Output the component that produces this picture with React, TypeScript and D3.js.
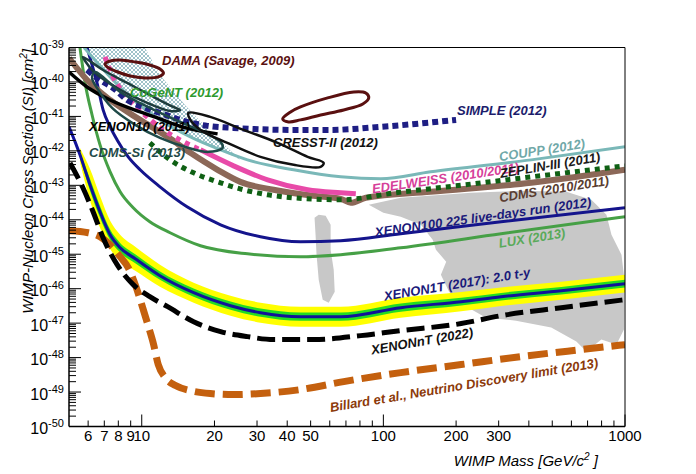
import React from 'react';
import * as d3 from 'd3';

type P = [number, number];

// ---- axis ticks ----
const yDecades = [-50, -49, -48, -47, -46, -45, -44, -43, -42, -41, -40, -39];
const xLabeledTicks = [6, 7, 8, 9, 10, 20, 30, 40, 50, 100, 200, 300, 1000];
const xMinorTicks = [60, 70, 80, 90, 400, 500, 600, 700, 800, 900];
const xDecadeTicks = [10, 100, 1000];

// ---- regions ----
const grayMain: P[] = [[87.0,2.72e-44],[118,4.34e-44],[231,6.07e-44],[372,6.93e-44],[572,6.49e-44],[726,3.8e-44],[838,1.4e-44],[879,3.67e-45],[967,9.68e-46],[995,1.82e-46],[990,6.49e-48],[922,2.38e-48],[798,3.33e-48],[692,1.49e-48],[629,2.91e-48],[495,7.41e-48],[354,1.18e-47],[266,1.44e-47],[214,3.44e-47],[187,8.18e-47],[173,2.55e-46],[182,6.07e-46],[165,1.35e-45],[160,2.63e-45],[143,7.16e-45],[118,1.22e-44],[100,1.6e-44]];
const graySliver: P[] = [[51.9,1.14e-44],[54.0,1.4e-44],[57.7,1.31e-44],[60.5,7.16e-45],[60.5,1.35e-45],[62.3,3.56e-46],[62.9,8.18e-47],[59.4,3.93e-47],[56.1,4.8e-47],[54.0,1.82e-46],[52.9,9.68e-46],[52.4,3.67e-45]];
const hatchRegion: P[] = [[5.77,1e-39],[10.3,1e-39],[11.9,1.6e-40],[15.1,2.15e-41],[19.8,2.91e-42],[25.6,5.48e-43],[21.2,1.07e-42],[15.9,2.55e-42],[11.9,7.92e-42],[9.22,3.0e-41],[7.4,1.4e-40]];

// ---- closed contours ----
const dama1: P[] = [[7.05,3.33e-40],[7.4,4.06e-40],[8.14,4.34e-40],[9.4,3.8e-40],[10.8,3.11e-40],[11.9,2.38e-40],[12.3,1.82e-40],[11.7,1.4e-40],[10.3,1.31e-40],[8.96,1.49e-40],[7.76,2.08e-40],[7.19,2.72e-40]];
const dama2: P[] = [[38.3,8.47e-42],[41.3,1.35e-41],[45.4,1.88e-41],[58.8,3.44e-41],[75.4,5.13e-41],[84.6,4.8e-41],[87.0,3.44e-41],[82.2,2.3e-41],[68.5,1.54e-41],[55.0,1.1e-41],[45.4,7.92e-42],[40.5,6.93e-42]];
const cresst: P[] = [[15.6,1.26e-41],[19.2,9.68e-42],[26.4,4.06e-42],[36.5,1.71e-42],[48.6,6.7e-43],[56.6,4.49e-43],[55.0,3.44e-43],[42.5,3.93e-43],[31.0,6.7e-43],[22.6,1.71e-42],[17.5,4.06e-42],[15.9,7.92e-42]];
const cogent: P[] = [[5.71,5.31e-40],[6.92,2.23e-40],[8.71,9.35e-41],[11.2,3.67e-41],[13.5,1.88e-41],[14.4,1.54e-41],[13.1,1.44e-41],[10.1,2.81e-41],[7.91,6.7e-41],[6.29,2.08e-40],[5.83,4.06e-40]];
const cdmsSi: P[] = [[6.41,1.95e-40],[8.14,5.13e-41],[10.8,1.76e-41],[14.4,6.93e-42],[18.3,3.33e-42],[21.2,1.82e-42],[21.6,1.22e-42],[18.9,9.35e-43],[15.1,1.31e-42],[11.9,2.38e-42],[9.4,5.68e-42],[7.54,1.76e-41],[6.53,6.7e-41],[6.23,1.31e-40]];

// ---- exclusion limits ----
const xenon10: P[] = [[5.0,1.95e-40],[5.94,7.16e-41],[7.4,3.0e-41],[9.85,1.35e-41],[11.9,8.47e-42],[14.7,4.97e-42],[20.6,3.11e-42]];
const simple: P[] = [[5.94,2.23e-40],[6.72,1.14e-40],[7.61,6.7e-41],[8.71,3.0e-41],[10.1,1.88e-41],[11.9,1.26e-41],[15.4,6.93e-42],[18.7,5.31e-42],[24,4.64e-42],[42.5,4.06e-42],[60.5,4.06e-42],[97.6,4.97e-42],[200,7.92e-42]];
const coupp: P[] = [[5.77,1e-39],[7.4,1.4e-40],[9.22,3.0e-41],[11.9,7.92e-42],[15.9,2.55e-42],[21.2,1.07e-42],[27.4,5.48e-43],[42.5,2.82e-43],[66.6,1.76e-43],[97.6,1.54e-43],[157,2.46e-43],[409,5.48e-43],[1000,1.31e-42]];
const edelweissA: P[] = [[7.05,5.31e-40],[7.61,1.4e-40],[8.71,3.67e-41],[10.1,1.26e-41],[12.3,4.06e-42],[14.4,2.08e-42],[17.5,1.07e-42]];
const edelweissB: P[] = [[17.5,1.07e-42],[24,3.67e-43],[33.2,1.44e-43],[48.6,7.41e-44],[66.6,6.07e-44],[76.9,5.68e-44]];
const cdms: P[] = [[5.0,4.97e-40],[5.94,1.14e-40],[7.4,3.0e-41],[9.85,7.92e-42],[12.8,2.55e-42],[15.9,8.75e-43],[20.6,2.82e-43],[25.6,1.26e-43],[35.1,7.41e-44],[51.4,4.97e-44],[66.6,4.06e-44],[73.3,3.11e-44],[84.6,4.34e-44],[157,6.49e-44],[409,1.18e-43],[1000,2.82e-43]];
const zeplin: P[] = [[10.8,1.71e-42],[13.1,5.48e-43],[16.4,2.3e-43],[21.2,1.18e-43],[26.4,7.41e-44],[33.2,5.31e-44],[42.5,4.34e-44],[66.6,3.8e-44],[112,6.07e-44],[216,1.03e-43],[409,1.76e-43],[1000,3.67e-43]];
const xenon100: P[] = [[5.94,1.0e-39],[6.23,3.11e-40],[6.53,9.35e-41],[6.92,1.54e-41],[7.4,4.97e-42],[7.91,2.08e-42],[8.79,6.7e-43],[9.85,2.82e-43],[11.9,9.05e-44],[15.4,2.38e-44],[21.2,7.16e-45],[31,3.21e-45],[45.4,2.3e-45],[66.6,2.46e-45],[118,3.93e-45],[307,8.75e-45],[1000,2.23e-44]];
const lux: P[] = [[5.55,1.0e-39],[5.83,9.35e-41],[6.23,1.1e-41],[6.72,1.49e-42],[7.4,2.46e-43],[8.14,6.49e-44],[9.22,2.23e-44],[10.8,8.75e-45],[13.1,4.2e-45],[17.5,1.76e-45],[27.4,1.03e-45],[45.4,8.47e-46],[66.6,9.68e-46],[118,1.54e-45],[307,3.93e-45],[1000,1.22e-44]];
const xenon1t: P[] = [[5.0,5.0e-42],[5.3,1.82e-42],[5.55,7.66e-43],[6.11,1.03e-43],[6.72,1.7e-44],[7.4,3.67e-45],[8.14,1.54e-45],[9.4,7.41e-46],[11.9,2.38e-46],[16.4,7.66e-47],[23.3,3.21e-47],[31,2.01e-47],[45.4,1.54e-47],[66.6,1.54e-47],[118,2.81e-47],[210,4.2e-47],[307,5.86e-47],[545,8.75e-47],[1000,1.4e-46]];
// half widths of the sensitivity bands, in decades
const xenon1tBand2: number[] = [0,0,0.2,0.46,0.46,0.41,0.38,0.35,0.32,0.29,0.29,0.29,0.29,0.29,0.29,0.28,0.27,0.26,0.26];
const xenon1tBand1: number[] = [0,0,0.08,0.17,0.17,0.15,0.14,0.13,0.12,0.12,0.12,0.12,0.12,0.12,0.12,0.11,0.11,0.11,0.11];
const xenonnt: P[] = [[5.05,4.49e-43],[5.71,8.47e-44],[6.29,1.71e-44],[6.92,3.0e-45],[7.91,4.97e-46],[9.22,1.31e-46],[10.8,5.86e-47],[12.8,3.0e-47],[16.4,1.1e-47],[21.2,5.68e-48],[27.4,4.06e-48],[35.1,3.33e-48],[51.4,3.33e-48],[80.6,4.34e-48],[118,6.07e-48],[210,9.7e-48],[307,1.65e-47],[545,2.81e-47],[1000,4.8e-47]];
const neutrino: P[] = [[5.0,4.8e-45],[6.0,4.2e-45],[6.72,3.21e-45],[7.4,1.88e-45],[8.14,8.47e-46],[8.79,4.06e-46],[9.4,1.31e-46],[10.0,3.44e-47],[10.6,9.05e-48],[11.2,2.38e-48],[11.7,6.27e-49],[12.5,2.63e-49],[13.8,1.54e-49],[15.9,1.1e-49],[19.2,9.05e-50],[24,8.47e-50],[31,9.05e-50],[45.4,1.18e-49],[68.5,2.01e-49],[118,3.67e-49],[210,6.27e-49],[372,1.07e-48],[660,1.71e-48],[1000,2.38e-48]];

const FONT = '"Liberation Sans", Arial, Helvetica, sans-serif';

export default function App() {
  const L = 69, R = 625, T = 47.5, B = 426.5;
  const x = d3.scaleLog().domain([5, 1000]).range([L, R]);
  const y = d3.scaleLog().domain([1e-50, 1e-39]).range([B, T]);

  const line = d3.line<P>().x(d => x(d[0])).y(d => y(d[1])).curve(d3.curveMonotoneX);
  const loop = d3.line<P>().x(d => x(d[0])).y(d => y(d[1])).curve(d3.curveCatmullRomClosed.alpha(0.5));
  const poly = d3.line<P>().x(d => x(d[0])).y(d => y(d[1])).curve(d3.curveLinearClosed);

  const bandArea = (w: number[]) =>
    d3.area<number>()
      .x(i => x(xenon1t[i][0]))
      .y0(i => y(xenon1t[i][1] / Math.pow(10, w[i])))
      .y1(i => y(xenon1t[i][1] * Math.pow(10, w[i])))
      .curve(d3.curveMonotoneX)(d3.range(2, xenon1t.length)) || '';

  const yMinor: number[] = [];
  yDecades.slice(0, -1).forEach(e => {
    for (let k = 2; k <= 9; k++) yMinor.push(k * Math.pow(10, e));
  });

  const lbl = (cx: number, cy: number, angle: number, color: string, text: string, anchor: 'middle' | 'start' = 'middle') => (
    <text transform={`translate(${cx},${cy}) rotate(${angle})`} textAnchor={anchor} dy="0.35em"
      fill={color} fontSize={13} fontWeight="bold" fontStyle="italic" fontFamily={FONT}>{text}</text>
  );

  return (
    <svg width={696} height={474} style={{ position: 'absolute', left: 0, top: 0, background: '#fff' }} fontFamily={FONT}>
      <defs>
        <clipPath id="plot"><rect x={L} y={T} width={R - L} height={B - T} /></clipPath>
        <pattern id="hatch" width="4" height="4" patternUnits="userSpaceOnUse">
          <path d="M0,4 L4,0 M0,0 L4,4" stroke="#86b2bc" strokeWidth="0.8" />
        </pattern>
      </defs>
      <rect width={696} height={474} fill="#fff" />
      <g clipPath="url(#plot)">
        <path d={poly(grayMain) || ''} fill="#c8c8c8" />
        <path d={poly(graySliver) || ''} fill="#c8c8c8" />
        <path d={poly(hatchRegion) || ''} fill="url(#hatch)" />
        <path d={bandArea(xenon1tBand2)} fill="#ffff00" />
        <path d={bandArea(xenon1tBand1)} fill="#22dd22" />
        <path d={line(neutrino) || ''} fill="none" stroke="#c4600e" strokeWidth={7} strokeDasharray="20,8" />
        <path d={line(xenonnt) || ''} fill="none" stroke="#000" strokeWidth={5} strokeDasharray="18,7" />
        <path d={line(xenon1t) || ''} fill="none" stroke="#12129a" strokeWidth={3} />
        <path d={line(lux) || ''} fill="none" stroke="#46a046" strokeWidth={3} />
        <path d={line(xenon100) || ''} fill="none" stroke="#14148c" strokeWidth={3} />
        <path d={line(coupp) || ''} fill="none" stroke="#7ab8b8" strokeWidth={3} />
        <path d={line(cdms) || ''} fill="none" stroke="#8c6858" strokeWidth={6} />
        <path d={line(zeplin) || ''} fill="none" stroke="#0f6014" strokeWidth={5} strokeDasharray="5,5" />
        <path d={line(edelweissB) || ''} fill="none" stroke="#e84aa8" strokeWidth={5} />
        <path d={line(edelweissA) || ''} fill="none" stroke="#e84aa8" strokeWidth={5} strokeDasharray="5,5" />
        <path d={line(simple) || ''} fill="none" stroke="#1e1e84" strokeWidth={6} strokeDasharray="6,4" />
        <path d={line(xenon10) || ''} fill="none" stroke="#000" strokeWidth={3.5} />
        <path d={loop(cogent) || ''} fill="none" stroke="#1d3c3c" strokeWidth={2.5} />
        <path d={loop(cdmsSi) || ''} fill="none" stroke="#1f4a48" strokeWidth={2.5} />
        <path d={loop(cresst) || ''} fill="none" stroke="#111" strokeWidth={2.5} />
        <path d={loop(dama1) || ''} fill="none" stroke="#5a1010" strokeWidth={3} />
        <path d={loop(dama2) || ''} fill="none" stroke="#5a1010" strokeWidth={3} />
      </g>

      {/* labels */}
      {lbl(162, 60.5, 0, '#5a1010', 'DAMA (Savage, 2009)', 'start')}
      {lbl(130, 92.5, 0, '#2e9a2e', 'CoGeNT (2012)', 'start')}
      {lbl(457, 110.5, 0, '#1c1c6c', 'SIMPLE (2012)', 'start')}
      {lbl(89, 126.5, 0, '#000', 'XENON10 (2011)', 'start')}
      {lbl(273, 142.5, 0, '#111', 'CRESST-II (2012)', 'start')}
      {lbl(89, 152.5, 0, '#1f4a48', 'CDMS-Si (2013)', 'start')}
      {lbl(542, 150, -9, '#70a8a8', 'COUPP (2012)')}
      {lbl(372, 189, -8.5, '#d6409a', 'EDELWEISS (2010/2011)', 'start')}
      {lbl(550, 165, -9.5, '#1a1a1a', 'ZEPLIN-III (2011)')}
      {lbl(554, 189, -9, '#5a3d30', 'CDMS (2010/2011)')}
      {lbl(483, 217, -8, '#1a1a7a', 'XENON100 225 live-days run (2012)')}
      {lbl(532, 238, -9, '#5aaa5a', 'LUX (2013)')}
      {lbl(457, 284, -9.5, '#1a1a7a', 'XENON1T (2017): 2.0 t-y')}
      {lbl(422, 341, -10, '#111', 'XENONnT (2022)')}
      {lbl(464, 385, -9.5, '#8c3a0a', 'Billard et al., Neutrino Discovery limit (2013)')}

      {/* frame */}
      <line x1={L} y1={T} x2={R} y2={T} stroke="#000" strokeWidth={1} />
      <line x1={R} y1={T} x2={R} y2={B} stroke="#000" strokeWidth={1} />
      <line x1={L} y1={B} x2={R} y2={B} stroke="#000" strokeWidth={1.5} />
      <line x1={L} y1={T} x2={L} y2={B} stroke="#000" strokeWidth={1.5} />

      {/* y ticks */}
      {yDecades.map(e => (
        <line key={'yd' + e} x1={L} x2={L + 12} y1={y(Math.pow(10, e))} y2={y(Math.pow(10, e))} stroke="#000" strokeWidth={1} />
      ))}
      {yMinor.map((v, i) => (
        <line key={'ym' + i} x1={L} x2={L + 7} y1={y(v)} y2={y(v)} stroke="#000" strokeWidth={1} />
      ))}
      {yDecades.map(e => (
        <text key={'yl' + e} x={64} y={y(Math.pow(10, e)) + 7.5} textAnchor="end" fontSize={16} fill="#000">
          10<tspan dy={-7} fontSize={11}>{`${e}`}</tspan>
        </text>
      ))}

      {/* x ticks */}
      {xLabeledTicks.concat(xMinorTicks).map(v => (
        <line key={'xt' + v} x1={x(v)} x2={x(v)} y1={B} y2={B - (xDecadeTicks.includes(v) ? 12 : 6)} stroke="#000" strokeWidth={1} />
      ))}
      {xLabeledTicks.map(v => (
        <text key={'xl' + v} x={x(v)} y={441} textAnchor="middle" fontSize={15} fill="#000">{v}</text>
      ))}

      {/* axis titles */}
      <text x={598} y={466} textAnchor="end" fontSize={15} fontStyle="italic" fill="#000">
        WIMP Mass [GeV/c<tspan dy={-6} fontSize={10}>2</tspan><tspan dy={6}> ]</tspan>
      </text>
      <text transform="translate(33,49) rotate(-90)" textAnchor="end" fontSize={15} fontStyle="italic" fill="#000">
        WIMP-Nucleon Cross Section (SI) [cm<tspan dy={-6} fontSize={10}>2</tspan><tspan dy={6}>]</tspan>
      </text>
    </svg>
  );
}
